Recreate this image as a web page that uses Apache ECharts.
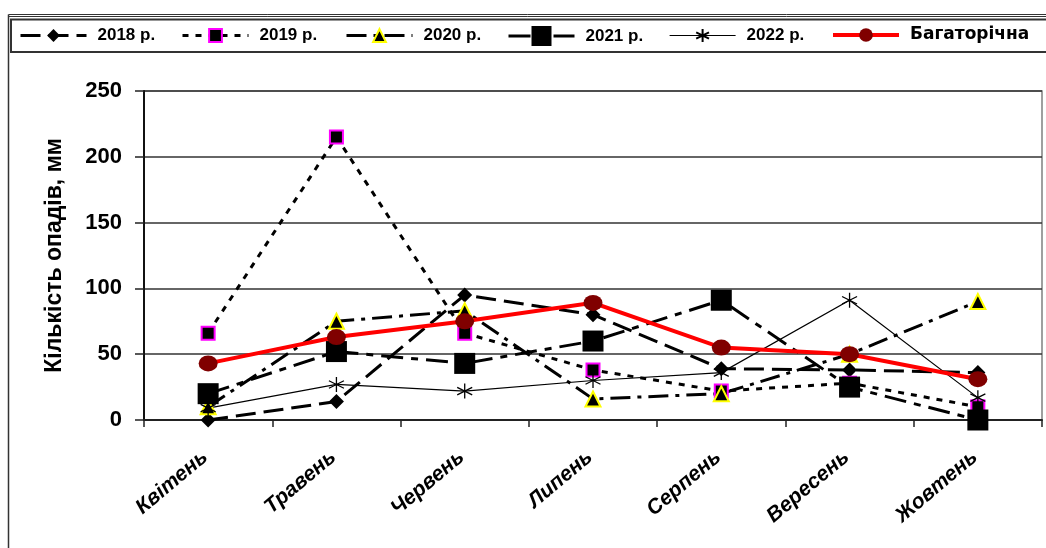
<!DOCTYPE html>
<html>
<head>
<meta charset="utf-8">
<title>Кількість опадів</title>
<script src="https://cdn.jsdelivr.net/npm/echarts@6/dist/echarts.min.js"></script>
<style>
  html, body { margin: 0; padding: 0; background: #fff; }
  #chart { width: 1046px; height: 548px; }
</style>
</head>
<body>
<div id="chart"></div>
<script>
// Months of the growing season (category axis)
const months = ['Квітень', 'Травень', 'Червень', 'Липень', 'Серпень', 'Вересень', 'Жовтень'];

// Series names as shown in the legend
const seriesNames = ['2018 р.', '2019 р.', '2020 р.', '2021 р.', '2022 р.', 'Багаторічна'];

// Monthly precipitation, mm
const rain2018 = [0, 14, 95, 80, 39, 38, 36];
const rain2019 = [66, 215, 66, 38, 22, 28, 10];
const rain2020 = [10, 75, 83, 16, 20, 50, 90];
const rain2021 = [20, 52, 43, 60, 91, 25, 0];
const rain2022 = [9, 27, 22, 30, 36, 91, 17];
const rainNorm = [43, 63, 75, 89, 55, 50, 31];

// Value-axis ticks
const yTicks = [0, 50, 100, 150, 200, 250];

const FONT = '"Liberation Sans", Arial, sans-serif';
const WIDE_FONT = '"DejaVu Sans", "Liberation Sans", sans-serif';

// Six-armed asterisk marker (stroked lines only)
const asterisk = 'path://M5,0L5,10M0.7,2.5L9.3,7.5M9.3,2.5L0.7,7.5';

const styles = [
  { symbol: 'diamond', size: 15, color: '#000', border: '#000', bw: 0,
    line: { color: '#000', width: 3, type: [20, 8] }, legendH: 16, shift: 0, font: FONT },
  { symbol: 'rect', size: 13, color: '#000', border: '#ff00ff', bw: 2,
    line: { color: '#000', width: 3, type: [6, 7] }, legendH: 16, shift: 0, font: FONT },
  { symbol: 'triangle', size: 15, color: '#000', border: '#ffff00', bw: 2,
    line: { color: '#000', width: 3, type: [20, 7, 4, 7] }, legendH: 16, shift: 0, font: FONT },
  { symbol: 'rect', size: 21, color: '#000', border: '#000', bw: 0,
    line: { color: '#000', width: 3, type: [22, 8, 7, 8] }, legendH: 25, shift: 3.5, font: FONT },
  { symbol: asterisk, size: 15, color: '#000', border: '#000', bw: 1.3,
    line: { color: '#000', width: 1.2, type: 'solid' }, legendH: 16, shift: 0, font: FONT },
  { symbol: 'circle', size: [19, 16], color: '#800000', border: '#800000', bw: 0,
    line: { color: '#ff0000', width: 4, type: 'solid' }, legendH: 17, shift: 0, font: WIDE_FONT }
];

const values = [rain2018, rain2019, rain2020, rain2021, rain2022, rainNorm];

const series = seriesNames.map((name, i) => ({
  name,
  type: 'line',
  data: values[i],
  symbol: styles[i].symbol,
  symbolSize: styles[i].size,
  showAllSymbol: true,
  animation: false,
  lineStyle: Object.assign({ cap: 'butt', join: 'miter' }, styles[i].line),
  itemStyle: { color: styles[i].color, borderColor: styles[i].border, borderWidth: styles[i].bw, opacity: 1 },
  emphasis: { disabled: true }
}));

// Legend entries laid out in one row inside the framed strip
const legendCenters = [52, 214, 378, 540, 702, 864];
const legendIconW = 66;
const legends = seriesNames.map((name, i) => {
  const st = styles[i];
  const boxH = Math.max(st.legendH, 16);
  return {
    data: [name],
    left: legendCenters[i] - legendIconW / 2,
    top: 35 - boxH / 2 + st.shift,
    itemWidth: legendIconW,
    itemHeight: st.legendH,
    itemGap: 0,
    padding: 0,
    selectedMode: false,
    lineStyle: { width: st.line.width, type: st.line.type, color: st.line.color, cap: 'butt' },
    textStyle: { fontFamily: st.font, fontSize: 17, fontWeight: 'bold', color: '#000', lineHeight: 16, padding: [0, 0, 0, 6] }
  };
});

const chart = echarts.init(document.getElementById('chart'), null, { renderer: 'canvas' });
chart.setOption({
  backgroundColor: '#fff',
  animation: false,
  legend: legends,
  grid: {
    left: 144, right: 4, top: 91, bottom: 128,
    show: true, borderColor: '#808080', borderWidth: 1.5, backgroundColor: 'transparent'
  },
  xAxis: {
    type: 'category',
    data: months,
    boundaryGap: true,
    axisLine: { show: true, lineStyle: { color: '#222', width: 2 } },
    axisTick: { show: true, inside: false, length: 7, lineStyle: { color: '#222', width: 1.5 } },
    axisLabel: {
      rotate: 40, margin: 32, interval: 0, padding: [0, 4, 0, 0],
      fontFamily: FONT, fontSize: 21, fontWeight: 'bold', fontStyle: 'italic', color: '#000'
    },
    splitLine: { show: false }
  },
  yAxis: {
    type: 'value',
    min: yTicks[0],
    max: yTicks[yTicks.length - 1],
    interval: yTicks[1] - yTicks[0],
    name: 'Кількість опадів, мм',
    nameLocation: 'middle',
    nameRotate: 90,
    nameGap: 78,
    nameTextStyle: { fontFamily: FONT, fontSize: 23, fontWeight: 'bold', color: '#000' },
    axisLine: { show: true, lineStyle: { color: '#111', width: 2 } },
    axisTick: { show: true, inside: false, length: 9, lineStyle: { color: '#222', width: 1.5 } },
    axisLabel: { margin: 22, fontFamily: FONT, fontSize: 22, fontWeight: 'bold', color: '#000' },
    splitLine: { show: true, lineStyle: { color: '#333', width: 1.5 } }
  },
  graphic: [
    // outer chart frame (double top rule, left edge)
    { type: 'line', shape: { x1: 8.5, y1: 14.5, x2: 1046, y2: 14.5 }, style: { stroke: '#333', lineWidth: 1 }, silent: true },
    { type: 'line', shape: { x1: 8.5, y1: 16.5, x2: 1046, y2: 16.5 }, style: { stroke: '#333', lineWidth: 1 }, silent: true },
    { type: 'line', shape: { x1: 8.5, y1: 14.5, x2: 8.5, y2: 548 }, style: { stroke: '#333', lineWidth: 1.5 }, silent: true },
    // legend strip
    { type: 'rect', shape: { x: 11, y: 19.5, width: 1060, height: 32.5 }, style: { fill: 'none', stroke: '#333', lineWidth: 2 }, silent: true, z: -1 }
  ],
  series
});
</script>
</body>
</html>
